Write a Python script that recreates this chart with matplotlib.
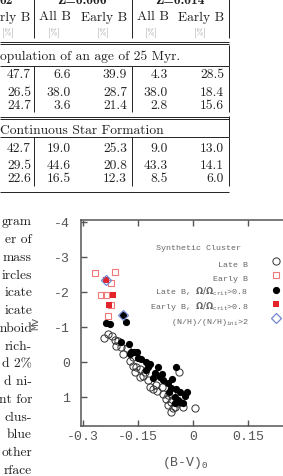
import matplotlib
matplotlib.use("Agg")
import matplotlib.pyplot as plt

# ---- cut-off table above the figure ----
z_headers = ["02", "Z=0.006", "Z=0.014"]
sub_headers = ["rly B", "All B", "Early B", "All B", "Early B"]
pop_title = "opulation of an age of 25 Myr."
csf_title = "Continuous Star Formation"
pop_rows = [["47.7", "6.6", "39.9", "4.3", "28.5"],
            ["26.5", "38.0", "28.7", "38.0", "18.4"],
            ["24.7", "3.6", "21.4", "2.8", "15.6"]]
csf_rows = [["42.7", "19.0", "25.3", "9.0", "13.0"],
            ["29.5", "44.6", "20.8", "43.3", "14.1"],
            ["22.6", "16.5", "12.3", "8.5", "6.0"]]

# ---- cut-off caption text left of the figure ----
caption_lines = ["gram", "er of", "mass", "ircles", "icate", "icate", "mboid",
                 "rich-", "d 2%", "d ni-", "nt for", "clus-", "blue", "other",
                 "rface"]

# ---- synthetic cluster CMD ----
late_bv = [-0.2427, -0.2318, -0.2209, -0.2135, -0.2045, -0.2089, -0.1953, -0.1909,
           -0.1808, -0.1726, -0.1645, -0.1636, -0.1544, -0.159, -0.1454, -0.1364,
           -0.1318, -0.1236, -0.1181, -0.1091, -0.0998, -0.099, -0.0854, -0.0824,
           -0.0682, -0.0581, -0.0745, -0.0589, -0.0688, -0.0499, -0.0545, -0.0589,
           -0.0417, -0.0382, -0.0273, 0.006, -0.1454]
late_mv = [-0.677, -0.8, -0.751, -0.637, -0.609, -0.449, -0.42, -0.229,
           -0.4, -0.03, -0.14, 0.106, 0.151, 0.294, 0.437, 0.391,
           0.286, 0.514, 0.723, 0.771, 0.657, 0.829, 0.714, 0.914,
           0.943, 0.914, 1.057, 1.151, 1.229, 1.294, 1.323, 1.437,
           1.171, 0.277, 1.294, 1.323, 0.2]

late_rot_bv = [-0.1909, -0.2362, -0.2272, -0.1816, -0.1972, -0.1745, -0.168, -0.1609,
               -0.1527, -0.1726, -0.15, -0.1426, -0.129, -0.1227, -0.1271, -0.1045,
               -0.0845, -0.108, -0.0453, -0.0682, -0.0589, -0.0453, -0.0363, -0.0663,
               -0.0499, -0.0409, -0.0273, -0.0499, -0.0227, -0.0363, -0.118, -0.0963,
               -0.0824, -0.0581, -0.0172, -0.0908]
late_rot_mv = [-1.343, -1.114, -1.086, -1.129, -0.563, -0.514, -0.277, -0.286,
               -0.294, -0.229, -0.106, -0.086, -0.009, 0.151, 0.22, 0.314,
               0.334, 0.466, 0.129, 0.6, 0.751, 0.771, 0.849, 0.849,
               1.009, 1.077, 1.171, 1.171, 0.98, 1.134, 0.057, 0.143,
               0.514, 0.486, 0.857, 0.429]

early_bv = [-0.2681, -0.2135, -0.2225, -0.2498, -0.2362, -0.2245, -0.2318]
early_mv = [-2.534, -2.563, -2.249, -1.923, -1.923, -1.63, -1.323]

early_rot_bv = [-0.2373, -0.2182, -0.2291]
early_rot_mv = [-2.343, -1.914, -1.629]

nenr_bv = [-0.2367, -0.1917]
nenr_mv = [-2.357, -1.343]

W, H = 283, 477
fig = plt.figure(figsize=(W / 100, H / 100), dpi=100)

# page overlay in pixel coordinates
pg = fig.add_axes([0, 0, 1, 1])
pg.set_xlim(0, W)
pg.set_ylim(H, 0)
pg.axis("off")

serif = "cmr10"
ink = "#222222"
lw = 0.7

# size the serif text so the section title spans what it does on the page
renderer = fig.canvas.get_renderer()
probe = pg.text(0, 0, csf_title, family=serif, fontsize=10)
fs = 10 * 163 / probe.get_window_extent(renderer).width
probe.remove()

# header
for txt, x in zip(z_headers, [0, 82, 180]):
    pg.text(x, 4.5, txt, family="cmb10", fontsize=fs, color=ink,
            ha="left" if x == 0 else "center", va="baseline")
for txt, x in zip(sub_headers, [30, 55, 104, 153, 201]):
    pg.text(x, 20.5, txt, family=serif, fontsize=fs, color=ink,
            ha="right" if x == 30 else "center", va="baseline")
for x in [8, 54, 103, 151, 200]:
    pg.text(x, 33, "[%]", family=serif, fontsize=6, color="#888888",
            ha="center", va="center")
pg.vlines([34.3, 132, 229], 0, 39, color=ink, lw=lw)
pg.hlines([43.3, 45.3], 0, 229, color=ink, lw=lw)

col_right = [31, 71, 127, 168, 224]

def block(title, y_title, y_top, rows, row_y, y_end, y_bottom_line):
    pg.text(0.5, y_title + 4, title, family=serif, fontsize=fs, color=ink,
            ha="left", va="baseline")
    pg.vlines(229, y_top, y_top + 21, color=ink, lw=lw)
    pg.hlines(y_top + 21, 0, 229, color=ink, lw=lw)
    for row, y in zip(rows, row_y):
        for val, x in zip(row, col_right):
            pg.text(x, y + 4.3, val, family=serif, fontsize=fs, color=ink,
                    ha="right", va="baseline")
    pg.vlines([34.3, 132, 229], y_top + 21, y_end, color=ink, lw=lw)
    if y_bottom_line is not None:
        pg.hlines(y_bottom_line, 0, 229, color=ink, lw=lw)

block(pop_title, 56, 45.5, pop_rows, [74, 91.5, 105], 113, None)
pg.hlines([118.3, 120.3], 0, 229, color=ink, lw=lw)
block(csf_title, 130, 117, csf_rows, [147.5, 164.5, 177.5], 187, 192.7)

for i, line in enumerate(caption_lines):
    pg.text(32, 222 + 17.75 * i + 3.5, line, family=serif, fontsize=fs,
            color=ink, ha="right", va="baseline")

# ---- scatter plot ----
mono = "Liberation Mono"
plt.rcParams["mathtext.fontset"] = "custom"
plt.rcParams["mathtext.rm"] = mono
plt.rcParams["mathtext.bf"] = "DejaVu Sans:bold"

x0, x1 = 81, 292.3
y0, y1 = 221, 426.7
ax = fig.add_axes([x0 / W, (H - y1) / H, (x1 - x0) / W, (y1 - y0) / H])
ax.set_xlim(-0.305, 0.27)
ax.set_ylim(1.82, -4.057)

ax.plot(late_bv, late_mv, "o", mfc="none", mec="#333333", ms=5.2, mew=0.7,
        label="Late B", zorder=3)
ax.plot(early_bv, early_mv, "s", mfc="none", mec="#f07878", ms=5, mew=0.8,
        label="Early B", zorder=3)
ax.plot(late_rot_bv, late_rot_mv, "o", color="black", ms=5.2, mew=0,
        label=r"Late B, $\mathbf{\Omega/\Omega}_{\rm crit}$>0.8", zorder=4)
ax.plot(early_rot_bv, early_rot_mv, "s", color="#e3242b", ms=5, mew=0,
        label=r"Early B, $\mathbf{\Omega/\Omega}_{\rm crit}$>0.8", zorder=4)
ax.plot(nenr_bv, nenr_mv, "D", mfc="none", mec="#7085cc", ms=5.4, mew=0.9,
        label=r"(N/H)/(N/H)$_{\rm ini}$>2", zorder=5)

gray = "#555555"
ax.set_xticks([-0.3, -0.15, 0, 0.15])
ax.set_xticklabels(["-0.3", "-0.15", "0", "0.15"])
ax.set_yticks([-4, -3, -2, -1, 0, 1])
ax.set_yticklabels(["-4", "-3", "-2", "-1", "0", "1"])
ax.tick_params(direction="in", top=True, right=True, length=4, width=1,
               color=gray, labelcolor=gray, labelsize=9.5)
ax.tick_params(axis="x", pad=3)
ax.tick_params(axis="y", pad=8)
for lab in ax.get_xticklabels() + ax.get_yticklabels():
    lab.set_family(mono)
for sp in ax.spines.values():
    sp.set_color(gray)
    sp.set_linewidth(1.1)

ax.set_xlabel(r"(B-V)$_{\rm 0}$", family=mono, fontsize=9.5, color=gray)
ax.xaxis.set_label_coords((185 - x0) / (x1 - x0), -(455 - y1) / (y1 - y0))
ax.set_ylabel("Mv", family=mono, fontsize=8, color=gray)
ax.yaxis.set_label_coords(-(x0 - 40) / (x1 - x0), 0.5)

leg = ax.legend(loc="upper right", markerfirst=False, frameon=False,
                bbox_to_anchor=(280 / W, 1 - 258 / H),
                bbox_transform=fig.transFigure,
                prop={"family": mono, "size": 6}, labelcolor="#666666",
                handlelength=1.0, handleheight=1.86, handletextpad=2.8,
                labelspacing=0.22, borderpad=0, borderaxespad=0, numpoints=1)
ax.text(198 / W, 1 - 249 / H, "Synthetic Cluster", transform=fig.transFigure,
        family=mono, fontsize=6, color="#666666", ha="center", va="center")

fig.savefig("out.png", dpi=100)
